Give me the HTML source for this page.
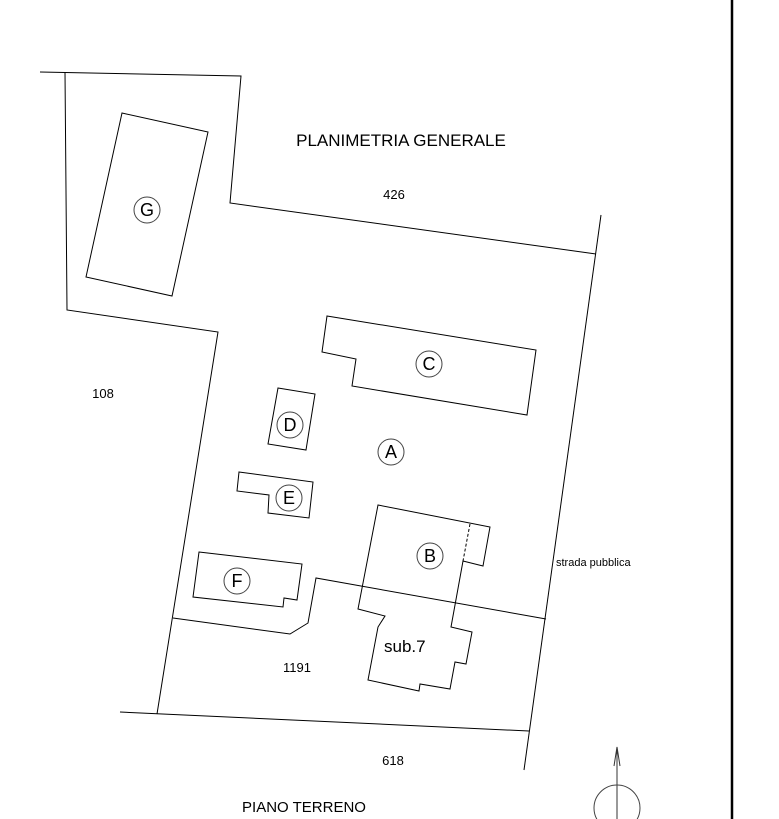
<!DOCTYPE html>
<html><head><style>body{margin:0;background:#fff}svg{display:block}</style></head><body>
<svg width="779" height="819" xmlns="http://www.w3.org/2000/svg" font-family="Liberation Sans, sans-serif">
<rect width="779" height="819" fill="#fff"/>
<g fill="none" stroke="#000" stroke-width="1">
<polyline points="40,72 241,76 230,203 596,254"/>
<polyline points="65,72 67,310 218,332 157,714"/>
<line x1="601" y1="215" x2="524" y2="770"/>
<line x1="120" y1="712" x2="529" y2="731"/>
<polygon points="122,113 208,132 172,296 86,277"/>
<polygon points="327,316 536,350 527,415 352,386 356,359 322,352"/>
<polygon points="278,388 315,394 306,450 268,444"/>
<polygon points="239,472 313,482 309,518 268,513 269,495 237,491"/>
<polygon points="199,552 302,564 297,600 284,598 283,607 193,597"/>
<polyline points="173,618 290,634 308,623 316,578 546,619"/>
<polygon points="378,505 490,527 483,566 463,561 451,627 472,632 466,664 455,662 450,689 420,684 419,691 368,680 378,627 385,616 358,609"/>
<line x1="470" y1="524" x2="463" y2="561" stroke-dasharray="3,2"/>
<circle cx="147" cy="210" r="13" stroke="#444"/>
<circle cx="429" cy="364" r="13" stroke="#444"/>
<circle cx="290" cy="425" r="13" stroke="#444"/>
<circle cx="391" cy="452" r="13" stroke="#444"/>
<circle cx="289" cy="498" r="13" stroke="#444"/>
<circle cx="430" cy="556" r="13" stroke="#444"/>
<circle cx="237" cy="581" r="13" stroke="#444"/>
<line x1="617" y1="747" x2="617" y2="819" stroke="#333"/>
<polyline points="614,766 617,747 620,766" stroke="#333"/>
<circle cx="617" cy="808" r="23" stroke="#444"/>
<line x1="732" y1="0" x2="732" y2="819" stroke-width="2.5"/>
</g>
<g fill="#000" font-size="18" text-anchor="middle">
<text x="147" y="216">G</text>
<text x="429" y="370">C</text>
<text x="290" y="431">D</text>
<text x="391" y="458">A</text>
<text x="289" y="504">E</text>
<text x="430" y="562">B</text>
<text x="237" y="587">F</text>
</g>
<g fill="#000" font-size="13">
<text x="401" y="146" font-size="17" text-anchor="middle">PLANIMETRIA GENERALE</text>
<text x="394" y="199" text-anchor="middle">426</text>
<text x="103" y="398" text-anchor="middle">108</text>
<text x="297" y="672" text-anchor="middle">1191</text>
<text x="393" y="765" text-anchor="middle">618</text>
<text x="304" y="812" font-size="15" text-anchor="middle">PIANO TERRENO</text>
<text x="556" y="566" font-size="11">strada pubblica</text>
<text x="384" y="652" font-size="17">sub.7</text>
</g>
</svg>
</body></html>
